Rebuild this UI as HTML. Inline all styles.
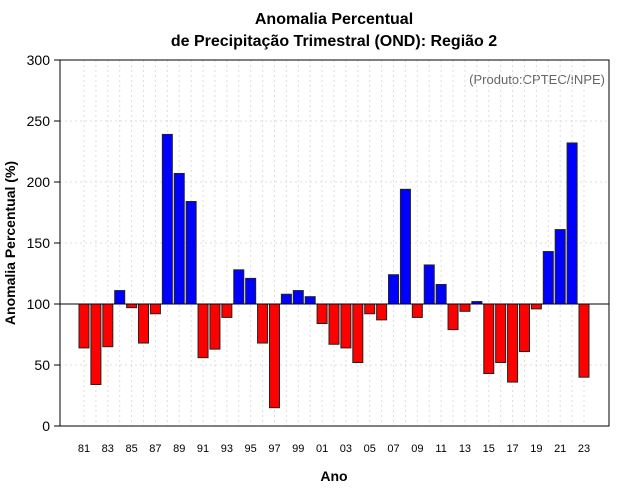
<!DOCTYPE html>
<html><head><meta charset="utf-8"><style>
body{margin:0;background:#fff;}
svg{display:block;font-family:"Liberation Sans",sans-serif;}
</style></head><body>
<svg id="chart" width="640" height="500">
<text x="334" y="24" text-anchor="middle" font-size="16" font-weight="bold">Anomalia Percentual</text>
<text x="334" y="46" text-anchor="middle" font-size="16" font-weight="bold">de Precipitação Trimestral (OND): Região 2</text>
<text x="605" y="84" text-anchor="end" font-size="13" fill="#666">(Produto:CPTEC/INPE)</text>
<text x="334" y="481" text-anchor="middle" font-size="14" font-weight="bold">Ano</text>
<text transform="translate(15,243) rotate(-90)" text-anchor="middle" font-size="14" font-weight="bold">Anomalia Percentual (%)</text>
<g id="grid"></g><g id="bars"></g><g id="axes"></g>
<rect x="60" y="60" width="549" height="366" fill="none" stroke="#000"/>
</svg>
<script>
const years=[];for(let y=1981;y<=2023;y++)years.push(y);
const values=[64,34,65,111,97,68,92,239,207,184,56,63,89,128,121,68,15,108,111,106,84,67,64,52,92,87,124,194,89,132,116,79,94,102,43,52,36,61,96,143,161,232,40];
const yTicks=[0,50,100,150,200,250,300];
const ns="http://www.w3.org/2000/svg";
const X=i=>84+i*(500/42);
const Y=v=>426-v*1.22;
const grid=document.getElementById('grid'),bars=document.getElementById('bars'),axes=document.getElementById('axes');
function mk(tag,at,par){const e=document.createElementNS(ns,tag);for(const k in at)e.setAttribute(k,at[k]);par.appendChild(e);return e;}
years.forEach((yr,i)=>{
 const g=mk('line',{x1:X(i),x2:X(i),y1:60,y2:426,stroke:'#ddd','stroke-dasharray':'2,3'},grid);
 
 
});
yTicks.forEach(v=>{
 const g=mk('line',{x1:60,x2:609,y1:Y(v),y2:Y(v),stroke:'#ddd','stroke-dasharray':'2,3'},grid);
 
 
 const t=mk('line',{x1:54,x2:60,y1:Y(v),y2:Y(v),stroke:'#000'},axes);
 
 
 const l=mk('text',{x:50,y:Y(v)+5,'text-anchor':'end','font-size':'14'},axes);l.textContent=v;
 
 
});
values.forEach((v,i)=>{
 const top=Math.min(Y(v),Y(100)),h=Math.abs(Y(v)-Y(100));
 const r=mk('rect',{x:X(i)-5,y:top,width:10,height:h,fill:v>=100?'#0000ff':'#ff0000',stroke:'#222','stroke-width':'1'},bars);
 
 
 if(i%2===0){
  const l=mk('text',{x:X(i),y:452,'text-anchor':'middle','font-size':'11'},axes);l.textContent=String(years[i]).slice(2);
  
  
 }
});
const base=mk('line',{x1:60,x2:609,y1:Y(100),y2:Y(100),stroke:'#000'},axes);


</script>
</body></html>
